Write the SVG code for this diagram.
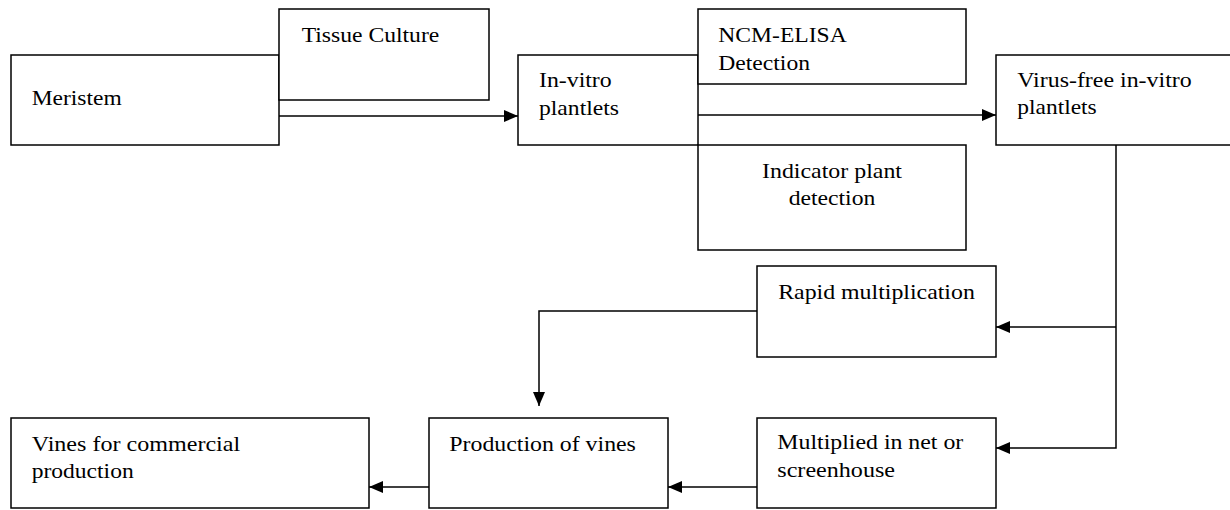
<svg xmlns="http://www.w3.org/2000/svg" width="1230" height="510" viewBox="0 0 1230 510">
<style>
.box{fill:#fff;stroke:#000;stroke-width:1.5}
text{font-family:'Liberation Serif','Times New Roman',Times,serif;font-size:22px;fill:#000}
.mid{text-anchor:middle}
.con{fill:none;stroke:#000;stroke-width:1.5}
</style>
<defs>
<marker id="ah" markerUnits="userSpaceOnUse" markerWidth="16" markerHeight="14" refX="14" refY="6" orient="auto">
<path d="M0,0 L14,6 L0,12 z" fill="#000"/>
</marker>
</defs>
<rect width="1230" height="510" fill="#fff"/>
<g id="meristem" font-family="Liberation Serif"><rect class="box" x="11" y="55" width="268" height="90"/><text x="31.7" y="105" textLength="90" lengthAdjust="spacingAndGlyphs">Meristem</text></g>
<g id="tissue-culture"><rect class="box" x="279" y="9" width="210" height="91"/><text x="301.7" y="42" textLength="137.6" lengthAdjust="spacingAndGlyphs">Tissue Culture</text></g>
<g id="in-vitro"><rect class="box" x="518" y="55" width="180" height="90"/><text x="539" y="87" textLength="72.7" lengthAdjust="spacingAndGlyphs">In-vitro</text><text x="539" y="115" textLength="80" lengthAdjust="spacingAndGlyphs">plantlets</text></g>
<g id="ncm-elisa"><rect class="box" x="698" y="9" width="268" height="75"/><text x="718.3" y="42" textLength="128.4" lengthAdjust="spacingAndGlyphs">NCM-ELISA</text><text x="718.3" y="69.5" textLength="91.7" lengthAdjust="spacingAndGlyphs">Detection</text></g>
<g id="indicator"><rect class="box" x="698" y="145" width="268" height="105"/><text class="mid" x="832" y="178" textLength="140" lengthAdjust="spacingAndGlyphs">Indicator plant</text><text class="mid" x="832" y="205" textLength="86.7" lengthAdjust="spacingAndGlyphs">detection</text></g>
<g id="virus-free"><rect class="box" x="996" y="55" width="250" height="90"/><text x="1017.3" y="87" textLength="174.4" lengthAdjust="spacingAndGlyphs">Virus-free in-vitro</text><text x="1017.3" y="114" textLength="79.4" lengthAdjust="spacingAndGlyphs">plantlets</text></g>
<g id="rapid"><rect class="box" x="757" y="266" width="239" height="91"/><text class="mid" x="876.5" y="299" textLength="196.7" lengthAdjust="spacingAndGlyphs">Rapid multiplication</text></g>
<g id="vines"><rect class="box" x="11" y="418" width="358" height="90"/><text x="31.7" y="451" textLength="208.5" lengthAdjust="spacingAndGlyphs">Vines for commercial</text><text x="31.7" y="478" textLength="102" lengthAdjust="spacingAndGlyphs">production</text></g>
<g id="production"><rect class="box" x="429" y="418" width="239" height="90"/><text x="449.3" y="451" textLength="186.6" lengthAdjust="spacingAndGlyphs">Production of vines</text></g>
<g id="multiplied"><rect class="box" x="757" y="418" width="239" height="90"/><text x="777.3" y="449" textLength="186" lengthAdjust="spacingAndGlyphs">Multiplied in net or</text><text x="777.3" y="477" textLength="117.7" lengthAdjust="spacingAndGlyphs">screenhouse</text></g>
<g id="connectors">
<path class="con" d="M279,116 H518" marker-end="url(#ah)"/>
<path class="con" d="M698,115 H996" marker-end="url(#ah)"/>
<path class="con" d="M1116,145 V448 H996" marker-end="url(#ah)"/>
<path class="con" d="M1116,327 H996" marker-end="url(#ah)"/>
<path class="con" d="M757,311 H539 V406" marker-end="url(#ah)"/>
<path class="con" d="M757,487 H668" marker-end="url(#ah)"/>
<path class="con" d="M429,487 H369" marker-end="url(#ah)"/>
</g>
</svg>
